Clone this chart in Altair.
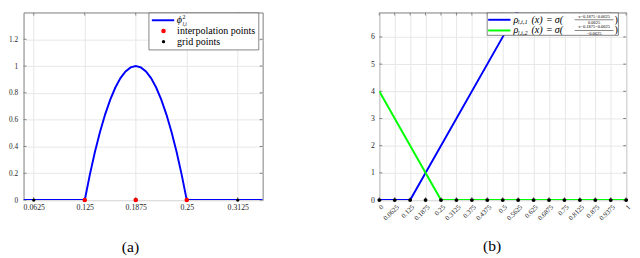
import altair as alt
import pandas as pd

# ---------------- panel (a) data ----------------
phi_x = [0.05, 0.125, 0.13125, 0.1375, 0.14375, 0.15, 0.15625, 0.1625, 0.16875, 0.175, 0.18125, 0.1875,
         0.19375, 0.2, 0.20625, 0.2125, 0.21875, 0.225, 0.23125, 0.2375, 0.24375, 0.25, 0.343]
phi_y = [0, 0, 0.19, 0.36, 0.51, 0.64, 0.75, 0.84, 0.91, 0.96, 0.99, 1.0,
         0.99, 0.96, 0.91, 0.84, 0.75, 0.64, 0.51, 0.36, 0.19, 0, 0]
interp_x = [0.125, 0.1875, 0.25]
grid_a_x = [0.0625, 0.125, 0.1875, 0.25, 0.3125]
xticks_a = [0.0625, 0.125, 0.1875, 0.25, 0.3125]
yticks_a = [0, 0.2, 0.4, 0.6, 0.8, 1, 1.2]

# ---------------- panel (b) data ----------------
rho1_x = [0, 0.125, 0.5625]
rho1_y = [0, 0, 7]
rho2_x = [0, 0.25, 1]
rho2_y = [4, 0, 0]
grid_b_x = [0, 0.0625, 0.125, 0.1875, 0.25, 0.3125, 0.375, 0.4375, 0.5, 0.5625,
            0.625, 0.6875, 0.75, 0.8125, 0.875, 0.9375, 1]
yticks_b = [0, 1, 2, 3, 4, 5, 6]

FONT = "Liberation Serif"
FRAME = "#7a7a7a"
H = 193
W1 = 246
W2 = 254


def one(**kw):
    return pd.DataFrame([kw])


def panel(width, xs, ys, axx, axy, xticks, yticks, layers):
    X = lambda: alt.X("x:Q", scale=xs, axis=axx)
    Y = lambda: alt.Y("y:Q", scale=ys, axis=axy)
    tx = pd.DataFrame({"x": xticks})
    ty = pd.DataFrame({"y": yticks})
    tick_layers = [
        alt.Chart(tx).mark_rule(color=FRAME, strokeWidth=1).encode(x=X(), y=alt.value(H), y2=alt.value(H - 3)),
        alt.Chart(tx).mark_rule(color=FRAME, strokeWidth=1).encode(x=X(), y=alt.value(0), y2=alt.value(3)),
        alt.Chart(ty).mark_rule(color=FRAME, strokeWidth=1).encode(y=Y(), x=alt.value(0), x2=alt.value(3)),
        alt.Chart(ty).mark_rule(color=FRAME, strokeWidth=1).encode(y=Y(), x=alt.value(width), x2=alt.value(width - 3)),
    ]
    built = []
    for kind, df, opts in layers:
        c = alt.Chart(df)
        if kind == "line":
            built.append(c.mark_line(clip=True, **opts).encode(x=X(), y=Y()))
        elif kind == "point":
            built.append(c.mark_circle(opacity=1, **opts).encode(x=X(), y=Y()))
    return alt.layer(*tick_layers, *built).properties(width=width, height=H)


def txt(t, x, y, size=9, align="left", style="normal", baseline="middle"):
    return alt.Chart(one(t=t)).mark_text(
        font=FONT, fontSize=size, align=align, baseline=baseline, fontStyle=style, color="#000"
    ).encode(text="t:N", x=alt.value(x), y=alt.value(y))


def rule(x1, x2, y1, y2, color, w):
    return alt.Chart(one(a=0)).mark_rule(color=color, strokeWidth=w).encode(
        x=alt.value(x1), x2=alt.value(x2), y=alt.value(y1), y2=alt.value(y2))


def box(x1, x2, y1, y2):
    return alt.Chart(one(a=0)).mark_rect(fill="white", stroke="#666666", strokeWidth=0.8).encode(
        x=alt.value(x1), x2=alt.value(x2), y=alt.value(y1), y2=alt.value(y2))


def dot(x, y, color, size):
    return alt.Chart(one(a=0)).mark_circle(color=color, size=size, opacity=1).encode(
        x=alt.value(x), y=alt.value(y))


# ---------------- panel (a) ----------------
xs_a = alt.Scale(domain=[0.05, 0.343], nice=False, zero=False)
ys_a = alt.Scale(domain=[0, 1.4], nice=False)
axx_a = alt.Axis(values=xticks_a, format=".6~g", title=None, labelPadding=4, labelFontSize=8)
axy_a = alt.Axis(values=yticks_a, format=".6~g", title=None, labelPadding=6, labelFontSize=7.5)

left_core = panel(
    W1, xs_a, ys_a, axx_a, axy_a, xticks_a, yticks_a,
    [
        ("line", pd.DataFrame({"x": phi_x, "y": phi_y}), dict(color="#0000ff", strokeWidth=2)),
        ("point", pd.DataFrame({"x": grid_a_x, "y": [0] * len(grid_a_x)}), dict(color="#000000", size=12)),
        ("point", pd.DataFrame({"x": interp_x, "y": [0] * len(interp_x)}), dict(color="#ff0000", size=22)),
    ],
)

left_legend = [
    box(129, 242, 0.5, 38.5),
    rule(132, 155, 8, 8, "#0000ff", 2),
    txt("ϕ", 157.5, 8, size=10.5, style="italic"),
    txt("2", 163.5, 4.5, size=6),
    txt("l,i", 163.5, 11.5, size=5.5, style="italic"),
    dot(144, 19, "#ff0000", 22),
    txt("interpolation points", 158, 19.5, size=10.3),
    dot(144, 30, "#000000", 12),
    txt("grid points", 158, 30.5, size=10.3),
    txt("(a)", 110, 241, size=16, align="center"),
]
left = alt.layer(left_core, *left_legend)

# ---------------- panel (b) ----------------
xs_b = alt.Scale(domain=[0, 1], nice=False, zero=False)
ys_b = alt.Scale(domain=[0, 6.9], nice=False)
axx_b = alt.Axis(values=grid_b_x, format=".6~g", title=None, labelPadding=3, labelFontSize=7,
                 labelAngle=315, labelOverlap=False)
axy_b = alt.Axis(values=yticks_b, format=".6~g", title=None, labelPadding=5, labelFontSize=8)

right_core = panel(
    W2, xs_b, ys_b, axx_b, axy_b, grid_b_x, yticks_b,
    [
        ("line", pd.DataFrame({"x": rho1_x, "y": rho1_y}), dict(color="#0000ff", strokeWidth=2)),
        ("line", pd.DataFrame({"x": rho2_x, "y": rho2_y}), dict(color="#00ff00", strokeWidth=2)),
        ("point", pd.DataFrame({"x": grid_b_x, "y": [0] * len(grid_b_x)}), dict(color="#000000", size=16)),
    ],
)


def rho_entry(yc, idx, num, den, color):
    return [
        rule(112, 135, yc, yc, color, 2),
        txt("ρ", 138, yc, size=10.5, style="italic"),
        txt("l,i," + idx, 142.5, yc + 2.5, size=6.5, style="italic"),
        txt("(x)", 156.5, yc, size=10.5, style="italic"),
        txt("=", 175, yc, size=10.5, align="center"),
        txt("σ(", 180.5, yc, size=10.5, style="italic"),
        txt(num, 221, yc - 3.2, size=4.6, align="center"),
        rule(201, 241, yc, yc, "#000000", 0.5),
        txt(den, 221, yc + 3.2, size=4.6, align="center"),
        txt(")", 242, yc, size=10.5),
    ]


right_legend = [box(111, 246, 0.5, 23.5)]
right_legend += rho_entry(7.5, "1", "x−0.1875+0.0625", "0.0625", "#0000ff")
right_legend += rho_entry(18.5, "2", "x−0.1875−0.0625", "−0.0625", "#00ff00")
right_legend += [txt("(b)", 116, 240, size=16, align="center")]
right = alt.layer(right_core, *right_legend)

chart = (
    alt.hconcat(left, right, spacing=109)
    .properties(padding=0)
    .configure_view(stroke=FRAME, strokeWidth=1)
    .configure_axis(
        labelFont=FONT, labelColor="#262626", grid=True, gridColor="#e6e6e6", gridWidth=1,
        domain=False, ticks=False,
    )
)

chart.save("out.html", embed_options={"renderer": "svg", "actions": False})
